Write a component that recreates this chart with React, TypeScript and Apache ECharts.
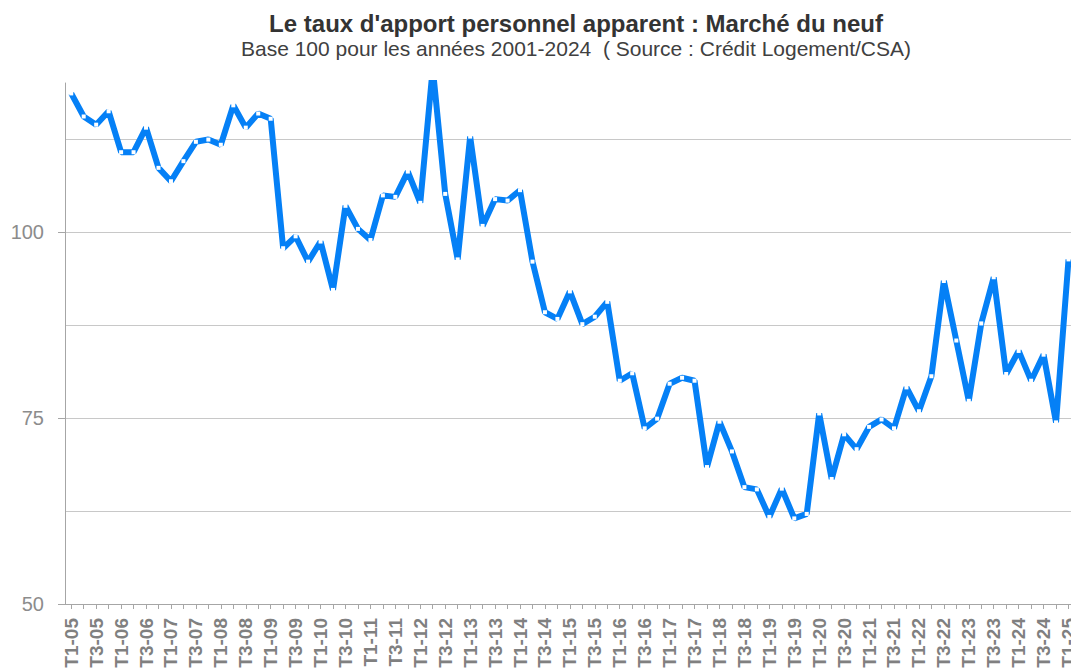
import React, { useEffect, useRef } from "react";
import * as echarts from "echarts";

const categories = [
  "T1-05", "T2-05", "T3-05", "T4-05",
  "T1-06", "T2-06", "T3-06", "T4-06",
  "T1-07", "T2-07", "T3-07", "T4-07",
  "T1-08", "T2-08", "T3-08", "T4-08",
  "T1-09", "T2-09", "T3-09", "T4-09",
  "T1-10", "T2-10", "T3-10", "T4-10",
  "T1-11", "T2-11", "T3-11", "T4-11",
  "T1-12", "T2-12", "T3-12", "T4-12",
  "T1-13", "T2-13", "T3-13", "T4-13",
  "T1-14", "T2-14", "T3-14", "T4-14",
  "T1-15", "T2-15", "T3-15", "T4-15",
  "T1-16", "T2-16", "T3-16", "T4-16",
  "T1-17", "T2-17", "T3-17", "T4-17",
  "T1-18", "T2-18", "T3-18", "T4-18",
  "T1-19", "T2-19", "T3-19", "T4-19",
  "T1-20", "T2-20", "T3-20", "T4-20",
  "T1-21", "T2-21", "T3-21", "T4-21",
  "T1-22", "T2-22", "T3-22", "T4-22",
  "T1-23", "T2-23", "T3-23", "T4-23",
  "T1-24", "T2-24", "T3-24", "T4-24",
  "T1-25",
];

const values = [
  118.6, 115.5, 114.4, 116.2,
  110.7, 110.7, 114.0, 108.6,
  106.8, 109.5, 112.1, 112.4,
  111.7, 117.0, 114.0, 115.9,
  115.2, 97.8, 99.4, 96.0,
  98.7, 92.2, 103.5, 100.4,
  98.9, 104.9, 104.7, 108.1,
  103.9, 122.0, 105.1, 96.3,
  112.8, 100.8, 104.4, 104.2,
  105.6, 96.0, 89.2, 88.3,
  92.0, 87.6, 88.6, 90.6,
  80.0, 81.0, 73.6, 74.9,
  79.6, 80.4, 80.0, 68.4,
  74.5, 70.5, 65.7, 65.4,
  61.7, 65.5, 61.5, 62.1,
  75.6, 66.8, 72.8, 70.8,
  73.8, 74.8, 73.6, 79.1,
  75.9, 80.6, 93.4, 85.4,
  77.3, 87.7, 93.9, 80.9,
  84.0, 80.0, 83.5, 74.4,
  96.3,
];

const yLabelValues = [50, 75, 100];
const yMin = 50;
const yMax = 120;
const yGridStep = 12.5;

const titleText = "Le taux d'apport personnel apparent : Marché du neuf";
const subtitleText = "Base 100 pour les années 2001-2024  ( Source : Crédit Logement/CSA)";

const FONT = "'Liberation Sans', Arial, sans-serif";

export default function App() {
  const ref = useRef<HTMLDivElement>(null);

  useEffect(() => {
    document.body.style.margin = "0";
    document.body.style.overflow = "hidden";
    const chart = echarts.init(ref.current as HTMLDivElement, null, { renderer: "svg" });
    chart.setOption({
      animation: false,
      textStyle: { fontFamily: FONT },
      graphic: [
        {
          type: "text",
          x: 576,
          y: 23,
          style: {
            text: titleText,
            font: `bold 24px ${FONT}`,
            fill: "#333333",
            align: "center",
            verticalAlign: "middle",
          },
        },
        {
          type: "text",
          x: 576,
          y: 48,
          style: {
            text: subtitleText,
            font: `21px ${FONT}`,
            fill: "#404040",
            align: "center",
            verticalAlign: "middle",
          },
        },
      ],
      grid: { left: 65, top: 83, bottom: 67, right: 0, containLabel: false },
      xAxis: {
        type: "category",
        data: categories,
        boundaryGap: true,
        axisLine: { show: true, lineStyle: { color: "#a6a6a6", width: 1 } },
        axisTick: { show: true, alignWithLabel: true, interval: 0, length: 5, lineStyle: { color: "#a6a6a6" } },
        axisLabel: {
          interval: 1,
          rotate: 90,
          margin: 14,
          fontSize: 19,
          fontWeight: "bold",
          color: "#808080",
          fontFamily: FONT,
        },
        splitLine: { show: false },
      },
      yAxis: [
        {
          type: "value",
          min: yMin,
          max: yMax,
          interval: yGridStep,
          axisLine: { show: false },
          axisTick: { show: false },
          axisLabel: { show: false },
          splitLine: {
            show: true,
            showMaxLine: false,
            lineStyle: { color: "#c8c8c8", width: 1 },
          },
        },
        {
          type: "value",
          position: "left",
          offset: 0,
          min: yMin,
          max: yMax,
          interval: yGridStep,
          axisLine: { show: true, lineStyle: { color: "#a6a6a6", width: 1 } },
          axisTick: {
            show: true,
            length: 7,
            customValues: yLabelValues,
            lineStyle: { color: "#a6a6a6" },
          },
          axisLabel: {
            customValues: yLabelValues,
            margin: 21,
            fontSize: 20,
            color: "#8c8c8c",
            fontFamily: FONT,
            formatter: (v: number) => (v % 25 === 0 ? String(v) : ""),
          },
          splitLine: { show: false },
        },
      ],
      series: [
        {
          type: "line",
          yAxisIndex: 0,
          data: values,
          showAllSymbol: true,
          symbol: "rect",
          symbolSize: 4,
          itemStyle: { color: "#ffffff", borderWidth: 0 },
          lineStyle: { color: "#0580f6", width: 6 },
          clip: true,
        },
      ],
    });
    return () => chart.dispose();
  }, []);

  return <div ref={ref} style={{ width: 1078, height: 671 }} />;
}
